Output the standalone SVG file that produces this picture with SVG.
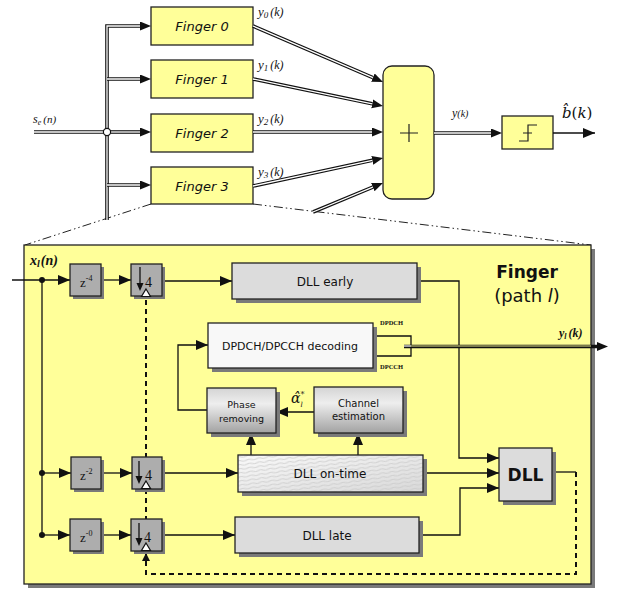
<svg xmlns="http://www.w3.org/2000/svg" width="623" height="589" viewBox="0 0 623 589">
<style>
.yb{fill:#ffff99;stroke:#222;stroke-width:1.3}
.ft{font-family:"DejaVu Sans",Verdana,sans-serif;font-style:italic;font-size:13px;fill:#111;text-anchor:middle}
.sv{font-family:"DejaVu Sans",Verdana,sans-serif;fill:#111;text-anchor:middle}
.sr{font-family:"Liberation Serif","DejaVu Serif",serif;fill:#111}
.dlo{fill:none;stroke:#111;stroke-width:3.6}
.dli{fill:none;stroke:#fff;stroke-width:1.3}
.ln{fill:none;stroke:#111;stroke-width:1.3}
.dash{fill:none;stroke:#111;stroke-width:2;stroke-dasharray:5 4}
.dd{fill:none;stroke:#222;stroke-width:1;stroke-dasharray:9 3 1.5 3 1.5 3}
.gbox{fill:#adadad;stroke:#222;stroke-width:1.3}
.sh{fill:#7a7a7a}
.lbox{fill:#dcdcdc;stroke:#222;stroke-width:1.3}
</style>
<defs>
<marker id="da" markerUnits="userSpaceOnUse" markerWidth="12" markerHeight="10" refX="0" refY="4.5" orient="auto"><path d="M0,0 L11,4.5 L0,9 z" fill="#111"/></marker>
<marker id="sa2" markerUnits="userSpaceOnUse" markerWidth="12" markerHeight="10" refX="12" refY="5" orient="auto"><path d="M0,0 L12,5 L0,10 z" fill="#111"/></marker>
<linearGradient id="gg" x1="0" y1="0" x2="0" y2="1"><stop offset="0" stop-color="#d4d4d4"/><stop offset="0.35" stop-color="#eeeeee"/><stop offset="1" stop-color="#a2a2a2"/></linearGradient>
<linearGradient id="og" x1="0" y1="0" x2="1" y2="1"><stop offset="0" stop-color="#fafafa"/><stop offset="1" stop-color="#d8d8d8"/></linearGradient>
<pattern id="hp" width="10" height="4" patternUnits="userSpaceOnUse" patternTransform="rotate(-8)"><path d="M0,2 Q2.5,0.8 5,2 T10,2" fill="none" stroke="#c8c8c8" stroke-width="0.8"/></pattern>
</defs>

<!-- dash-dot zoom lines -->
<g id="zoomlines">
<path class="dd" d="M151,204 L25,245"/>
<path class="dd" d="M253,204 L591,245"/>
</g>

<!-- top-level nodes -->
<g id="finger0"><rect class="yb" x="151" y="7" width="102" height="38"/><text class="ft" x="202" y="31">Finger 0</text></g>
<g id="finger1"><rect class="yb" x="151" y="60" width="102" height="38"/><text class="ft" x="202" y="84">Finger 1</text></g>
<g id="finger2"><rect class="yb" x="151" y="114" width="102" height="38"/><text class="ft" x="202" y="138">Finger 2</text></g>
<g id="finger3"><rect class="yb" x="151" y="167" width="102" height="37"/><text class="ft" x="202" y="191">Finger 3</text></g>
<g id="summer"><rect class="yb" x="383" y="66" width="51" height="133" rx="9"/><path d="M400,133 H418 M409,124 V142" stroke="#222" stroke-width="1.2"/></g>
<g id="decision"><rect class="yb" x="502" y="116" width="51" height="33"/><path d="M519,141 H528 V125 H537 M523,133 H532" fill="none" stroke="#222" stroke-width="1.2"/></g>

<!-- top connectors -->
<g id="top-connectors">
<path class="dlo" d="M34,132 H104"/><path class="dli" d="M34,132 H104"/>
<path class="dlo" d="M107,220 V26 H140" marker-end="url(#da)"/><path class="dli" d="M107,220 V26 H140"/>
<path class="dlo" d="M107,79 H140" marker-end="url(#da)"/><path class="dli" d="M107,79 H140"/>
<path class="dlo" d="M110,132 H140" marker-end="url(#da)"/><path class="dli" d="M110,132 H140"/>
<path class="dlo" d="M107,185 H140" marker-end="url(#da)"/><path class="dli" d="M107,185 H140"/>
<circle cx="107" cy="132" r="3.6" fill="#fff" stroke="#111" stroke-width="1.2"/>
<path class="dlo" d="M253,26 L372.9,77.6" marker-end="url(#da)"/><path class="dli" d="M253,26 L372.9,77.6"/>
<path class="dlo" d="M253,79 L372.2,103.8" marker-end="url(#da)"/><path class="dli" d="M253,79 L372.2,103.8"/>
<path class="dlo" d="M253,132 L372,132" marker-end="url(#da)"/><path class="dli" d="M253,132 L372,132"/>
<path class="dlo" d="M253,186 L372.3,160.3" marker-end="url(#da)"/><path class="dli" d="M253,186 L372.3,160.3"/>
<path class="dlo" d="M313,212 L372.8,187.2" marker-end="url(#da)"/><path class="dli" d="M313,212 L372.8,187.2"/>
<path class="dlo" d="M434,133 H491" marker-end="url(#da)"/><path class="dli" d="M434,133 H491"/>
<path class="ln" d="M553,133 H595" marker-end="url(#sa2)"/>
</g>

<!-- top labels -->
<g id="top-labels" class="sr" font-style="italic">
<text x="33" y="123" font-size="12">s<tspan font-size="8" dy="2">e</tspan><tspan dy="-2" dx="2" font-size="11">(n)</tspan></text>
<text x="258" y="16" font-size="13">y<tspan font-size="9" dy="2">0</tspan><tspan dy="-2" dx="2" font-size="12">(k)</tspan></text>
<text x="258" y="69" font-size="13">y<tspan font-size="9" dy="2">1</tspan><tspan dy="-2" dx="2" font-size="12">(k)</tspan></text>
<text x="258" y="123" font-size="13">y<tspan font-size="9" dy="2">2</tspan><tspan dy="-2" dx="2" font-size="12">(k)</tspan></text>
<text x="258" y="176" font-size="13">y<tspan font-size="9" dy="2">3</tspan><tspan dy="-2" dx="2" font-size="12">(k)</tspan></text>
<text x="452" y="117" font-size="12">y<tspan font-size="10">(k)</tspan></text>
<text x="562" y="118" font-size="15" font-family="DejaVu Serif,serif">b̂<tspan font-style="normal">(</tspan>k<tspan font-style="normal">)</tspan></text>
</g>

<!-- finger detail box -->
<g id="finger-detail">
<rect x="28" y="249" width="567" height="339" fill="#7a7a7a"/>
<rect x="24" y="245" width="567" height="339" fill="#ffff99" stroke="#222" stroke-width="1.3"/>
<text class="sv" x="527" y="278" font-size="17" font-weight="bold">Finger</text>
<text class="sv" x="527" y="302" font-size="18">(path <tspan font-style="italic">l</tspan>)</text>
</g>

<!-- inner connectors -->
<g id="connectors">
<path class="ln" d="M12,280 H70" marker-end="url(#sa2)"/>
<path class="ln" d="M42,280 V535"/>
<path class="ln" d="M42,473 H71" marker-end="url(#sa2)"/>
<path class="ln" d="M42,535 H70" marker-end="url(#sa2)"/>
<circle cx="42" cy="280" r="3" fill="#111"/><circle cx="42" cy="473" r="3" fill="#111"/><circle cx="42" cy="535" r="3" fill="#111"/>
<path class="ln" d="M101,280 H131" marker-end="url(#sa2)"/>
<path class="ln" d="M101,473 H132" marker-end="url(#sa2)"/>
<path class="ln" d="M101,535 H131" marker-end="url(#sa2)"/>
<path class="ln" d="M162,281 H232" marker-end="url(#sa2)"/>
<path class="ln" d="M162,473 H238" marker-end="url(#sa2)"/>
<path class="ln" d="M162,535 H235" marker-end="url(#sa2)"/>
<path class="ln" d="M417,281 H459 V458 H499" marker-end="url(#sa2)"/>
<path class="ln" d="M423,473 H499" marker-end="url(#sa2)"/>
<path class="ln" d="M419,535 H460 V488 H499" marker-end="url(#sa2)"/>
<path class="ln" d="M552,472 H576"/>
<path class="dash" d="M576,472 V574 H146 V297"/>
<path d="M146,553 l-4,8 h8 z" fill="#111"/>
<path class="ln" d="M314,412 H276" marker-end="url(#sa2)"/>
<path class="ln" d="M207,410 H178 V345 H208" marker-end="url(#sa2)"/>
<path class="ln" d="M251,455 V433" marker-end="url(#sa2)"/>
<path class="ln" d="M358,455 V433" marker-end="url(#sa2)"/>
<path class="ln" d="M373,336 H411 V356 H373"/>
<path d="M404,346.5 H597" fill="none" stroke="#111" stroke-width="3.6" marker-end="url(#da)"/>
<path d="M404,346 H411" stroke="#fff" stroke-width="1.2"/>
<path d="M411,346 H591" stroke="#ffff99" stroke-width="0.9"/>
</g>

<!-- delay boxes -->
<g id="z4"><rect class="sh" x="73" y="267" width="31" height="32"/><rect class="gbox" x="70" y="264" width="31" height="32"/><text class="sr" x="80" y="287" font-size="13">z<tspan font-size="8" dy="-6">-4</tspan></text></g>
<g id="z2"><rect class="sh" x="74" y="460" width="30" height="32"/><rect class="gbox" x="71" y="457" width="30" height="32"/><text class="sr" x="80" y="480" font-size="13">z<tspan font-size="8" dy="-6">-2</tspan></text></g>
<g id="z0"><rect class="sh" x="73" y="522" width="31" height="32"/><rect class="gbox" x="70" y="519" width="31" height="32"/><text class="sr" x="80" y="542" font-size="13">z<tspan font-size="8" dy="-6">-0</tspan></text></g>

<!-- downsamplers -->
<g id="down1"><rect class="sh" x="134" y="267" width="31" height="32"/><rect class="gbox" x="131" y="264" width="31" height="32"/><path d="M140,267 V284" class="ln"/><path d="M140,291 l-3.5,-8 h7 z" fill="#111"/><text class="sr" x="145" y="287" font-size="14">4</text><path d="M146,289 L150.5,296.5 L141.5,296.5 z" fill="#fff" stroke="#111" stroke-width="1.2"/></g>
<g id="down2"><rect class="sh" x="135" y="460" width="30" height="32"/><rect class="gbox" x="132" y="457" width="30" height="32"/><path d="M139,461 V477" class="ln"/><path d="M139,484 l-3.5,-8 h7 z" fill="#111"/><text class="sr" x="145" y="480" font-size="14">4</text><path d="M146,481 L150.5,488.5 L141.5,488.5 z" fill="#fff" stroke="#111" stroke-width="1.2"/></g>
<g id="down3"><rect class="sh" x="134" y="522" width="31" height="32"/><rect class="gbox" x="131" y="519" width="31" height="32"/><path d="M139,523 V539" class="ln"/><path d="M139,546 l-3.5,-8 h7 z" fill="#111"/><text class="sr" x="144" y="542" font-size="14">4</text><path d="M146,543 L150.5,550.5 L141.5,550.5 z" fill="#fff" stroke="#111" stroke-width="1.2"/></g>

<!-- DLL boxes -->
<g id="dll-early"><rect class="sh" x="236" y="267" width="185" height="36"/><rect class="lbox" x="232" y="263" width="185" height="36"/><text class="sv" x="325" y="286" font-size="12">DLL early</text></g>
<g id="dll-ontime"><rect class="sh" x="242" y="459" width="185" height="37"/><rect x="238" y="455" width="185" height="37" fill="url(#og)"/><rect x="238" y="455" width="185" height="37" fill="url(#hp)" stroke="#222" stroke-width="1.3"/><text class="sv" x="330" y="478" font-size="12">DLL on-time</text></g>
<g id="dll-late"><rect class="sh" x="239" y="521" width="184" height="36"/><rect class="lbox" x="235" y="517" width="184" height="36"/><text class="sv" x="327" y="540" font-size="12">DLL late</text></g>
<g id="dll"><rect class="sh" x="503" y="452" width="53" height="53"/><rect class="lbox" x="499" y="448" width="53" height="53"/><text class="sv" x="525.5" y="481" font-size="17" font-weight="bold">DLL</text></g>

<!-- decoding / phase / channel -->
<g id="decoding"><rect class="sh" x="212" y="327" width="165" height="45"/><rect x="208" y="323" width="165" height="45" fill="#f8f8f8" stroke="#222" stroke-width="1.3"/><text class="sv" x="290" y="350" font-size="11">DPDCH/DPCCH decoding</text></g>
<g id="phase"><rect class="sh" x="211" y="392" width="69" height="45"/><rect x="207" y="388" width="69" height="45" fill="url(#gg)" stroke="#222" stroke-width="1.3"/><text class="sv" x="241.5" y="408" font-size="9.5">Phase</text><text class="sv" x="241.5" y="422" font-size="9.5">removing</text></g>
<g id="channel"><rect class="sh" x="318" y="391" width="89" height="46"/><rect x="314" y="387" width="89" height="46" fill="url(#gg)" stroke="#222" stroke-width="1.3"/><text class="sv" x="358.5" y="407" font-size="10">Channel</text><text class="sv" x="358.5" y="420" font-size="10">estimation</text></g>

<!-- inner labels -->
<g id="inner-labels" class="sr">
<text x="30" y="265" font-size="14" font-weight="bold" font-style="italic">x<tspan font-size="10" dy="2">l</tspan><tspan dy="-2" dx="1">(n)</tspan></text>
<text x="380" y="325" font-size="6.5" font-weight="bold">DPDCH</text>
<text x="380" y="369" font-size="6.5" font-weight="bold">DPCCH</text>
<text x="559" y="337" font-size="12" font-weight="bold" font-style="italic">y<tspan font-size="8" dy="2">l</tspan><tspan dy="-2" dx="2">(k)</tspan></text>
<text x="291" y="403" font-size="14" font-style="italic" font-family="DejaVu Serif,serif">α̂<tspan font-size="8" dy="-6">*</tspan><tspan font-size="7" dx="-4" dy="10">l</tspan></text>
</g>
</svg>
